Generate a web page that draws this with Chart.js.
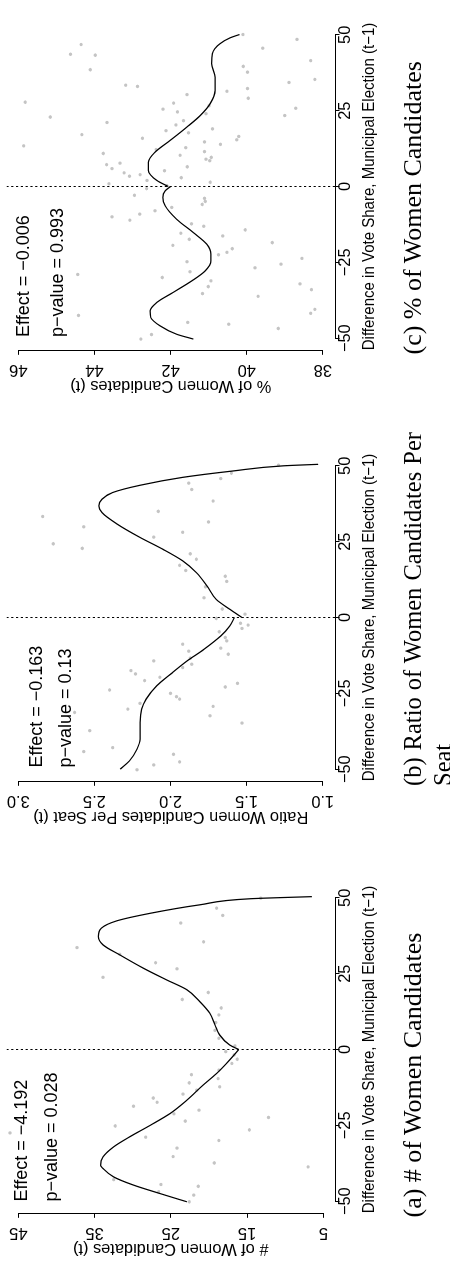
<!DOCTYPE html>
<html>
<head>
<meta charset="utf-8">
<script src="https://cdn.jsdelivr.net/npm/chart.js@4.4.1/dist/chart.umd.min.js"></script>
<style>
html,body{margin:0;padding:0;overflow:hidden;background:#fff;width:450px;height:1265px;}
#fig{position:absolute;left:0;top:0;width:1265px;height:450px;transform-origin:0 0;transform:translateY(1265px) rotate(-90deg);overflow:hidden;background:#fff;}
.panel{position:absolute;top:0;width:431px;height:450px;}
.panel canvas{position:absolute;left:0;top:0;}
.ann{position:absolute;font-family:'Liberation Sans',Arial,sans-serif;font-size:18px;line-height:18px;white-space:nowrap;color:#000;}
.cap{position:absolute;font-family:'Liberation Serif','Times New Roman',serif;font-size:26px;line-height:30px;text-align:justify;color:#000;}
</style>
</head>
<body>
<div id="fig"></div>
<script>
// ---------- data ----------
const xTicks = [-50, -25, 0, 25, 50];
const xTitle = 'Difference in Vote Share, Municipal Election (t\u22121)';

// panel (a): # of women candidates
const aYTicks = [5, 15, 25, 35, 45];
const aYRange = [3.47, 46.55];
const aYTitle = '# of Women Candidates (t)';
const aEffect = 'Effect = \u22124.192';
const aPValue = 'p\u2212value = 0.028';
const aCaption = '(a) # of Women Candidates';
const aPoints = [[49.9,13.2],[46.6,19.0],[44.2,18.2],[41.7,23.7],[35.5,20.7],[33.6,37.3],[31.4,31.7],[28.6,27.0],[26.6,24.2],[23.8,33.9],[18.8,20.1],[16.5,23.5],[13.7,18.4],[11.4,18.7],[8.9,19.1],[6.3,19.2],[3.7,18.7],[1.2,16.6],[-0.7,17.8],[-1.8,16.7],[-3.2,16.3],[-4.6,17.0],[-6.8,18.7],[-8.3,22.3],[-9.6,18.8],[-11.0,22.6],[-12.3,18.6],[-13.4,21.6],[-14.7,23.4],[-16.0,27.3],[-17.4,26.8],[-18.7,29.9],[-20.0,21.3],[-21.2,24.6],[-22.4,12.2],[-23.6,23.1],[-25.2,32.3],[-26.5,14.7],[-27.5,46.1],[-28.9,28.3],[-30.0,18.7],[-32.5,24.2],[-35.3,24.7],[-37.4,19.3],[-38.7,7.0],[-42.9,32.5],[-44.5,26.3],[-45.1,21.4],[-46.9,26.6],[-48.0,22.0],[-50.2,22.6]];
const aLeftFit = [[-50.2,22.9],[-47.5,26.4],[-44.7,29.9],[-42.0,32.5],[-39.2,33.9],[-38.2,34.2],[-35.4,33.9],[-32.1,32.5],[-28.8,30.4],[-25.0,27.7],[-21.1,25.1],[-16.7,22.9],[-11.8,20.8],[-7.9,19.0],[-3.5,17.3],[0,16.1]];
const aRightFit = [[0,16.1],[1.5,17.3],[4.8,18.6],[8.1,19.2],[12.0,19.9],[15.8,21.2],[19.7,22.9],[23.0,25.6],[26.8,28.6],[31.2,31.7],[34.5,33.9],[37.3,34.5],[40.0,34.1],[42.4,32.1],[44.9,27.7],[47.7,21.2],[49.7,14.6],[50.4,6.5]];

// panel (b): ratio of women candidates per seat
const bYTicks = [1.0, 1.5, 2.0, 2.5, 3.0];
const bYRange = [0.919, 3.0775];
const bYTitle = 'Ratio Women Candidates Per Seat (t)';
const bEffect = 'Effect = \u22120.163';
const bPValue = 'p\u2212value = 0.13';
const bCaption = '(b) Ratio of Women Candidates Per Seat';
const bPoints = [[50.2,1.29],[47.6,1.60],[45.8,1.67],[44.3,1.88],[42.2,1.86],[38.4,1.72],[35.0,2.08],[33.3,2.84],[31.5,1.75],[29.9,2.57],[28.1,1.92],[26.5,2.11],[24.3,2.77],[22.8,2.58],[21.0,1.87],[19.2,1.83],[17.2,1.94],[15.5,1.90],[13.6,1.64],[11.9,1.63],[10.1,1.77],[6.5,1.78],[2.8,1.66],[1.1,1.51],[-0.3,1.70],[-1.9,1.54],[-2.5,1.49],[-3.6,1.53],[-4.7,1.68],[-6.6,1.64],[-7.7,1.63],[-8.8,1.92],[-10.1,1.67],[-11.1,1.88],[-12.1,1.62],[-13.4,1.87],[-14.3,2.11],[-15.4,1.86],[-16.5,1.92],[-17.5,2.26],[-18.6,2.23],[-19.7,2.07],[-20.8,2.17],[-21.7,1.56],[-22.9,1.64],[-23.9,2.40],[-25.0,2.00],[-26.1,1.96],[-26.9,1.94],[-28.3,2.20],[-29.3,1.72],[-30.2,2.28],[-31.3,2.63],[-32.4,1.74],[-34.8,1.53],[-37.3,2.53],[-42.9,2.38],[-44.2,2.57],[-45.1,1.98],[-47.6,1.94],[-48.6,2.11],[-50.2,2.22]];
const bLeftFit = [[-50.0,2.33],[-47.3,2.27],[-43.4,2.22],[-40.1,2.20],[-34.6,2.20],[-30.2,2.19],[-26.9,2.16],[-22.5,2.09],[-18.7,2.00],[-14.3,1.89],[-10.5,1.78],[-6.1,1.67],[-2.8,1.61],[0,1.58]];
const bRightFit = [[0,1.53],[2.7,1.61],[6.0,1.70],[10.4,1.76],[14.8,1.83],[18.7,1.92],[22.5,2.05],[26.4,2.20],[30.8,2.35],[34.6,2.45],[36.8,2.47],[39.0,2.45],[41.2,2.38],[43.6,2.20],[46.2,1.92],[48.3,1.59],[50.0,1.26],[50.5,1.03]];

// panel (c): % of women candidates
const cYTicks = [38, 40, 42, 44, 46];
const cYRange = [37.68, 46.31];
const cYTitle = '% of Women Candidates (t)';
const cEffect = 'Effect = \u22120.006';
const cPValue = 'p\u2212value = 0.993';
const cCaption = '(c) % of Women Candidates';
const cPoints = [[50.1,40.10],[48.5,38.68],[46.8,44.35],[45.6,39.58],[43.6,44.63],[43.3,43.98],[41.5,38.32],[39.6,40.09],[38.5,44.11],[37.7,39.98],[35.3,38.21],[34.3,38.89],[33.4,43.18],[33.0,42.87],[32.3,39.98],[31.4,40.52],[30.3,41.57],[29.1,39.96],[27.8,45.82],[27.5,41.92],[26.6,40.99],[25.5,42.20],[25.8,38.71],[24.6,41.82],[24.0,41.07],[23.4,39.00],[22.9,45.16],[21.7,41.66],[21.1,43.67],[20.3,41.86],[19.0,40.90],[18.4,42.12],[17.7,41.53],[17.1,44.33],[16.5,40.21],[15.9,42.74],[15.4,40.26],[14.7,41.11],[13.9,40.69],[13.4,45.86],[12.8,41.60],[12.2,42.38],[11.5,41.11],[10.9,43.77],[10.3,41.75],[9.6,40.93],[9.0,41.07],[8.5,40.97],[7.7,43.33],[7.2,43.68],[6.5,41.56],[5.9,43.54],[5.2,42.16],[4.5,43.22],[3.9,42.80],[3.4,43.08],[2.9,41.72],[2.0,42.62],[1.4,40.96],[0.9,43.62],[0.3,42.10],[-0.7,42.63],[-2.9,42.95],[-3.9,41.11],[-4.9,41.09],[-5.9,41.17],[-6.9,41.97],[-8.0,42.41],[-9.1,42.81],[-10.0,43.54],[-11.1,43.07],[-12.3,41.45],[-13.1,41.13],[-14.3,40.04],[-15.4,41.73],[-16.3,40.63],[-17.4,41.51],[-18.5,39.33],[-19.4,41.94],[-20.5,40.38],[-21.7,40.52],[-22.5,40.74],[-23.7,38.55],[-24.8,41.57],[-25.6,39.10],[-26.8,39.78],[-28.1,41.49],[-29.0,44.44],[-30.0,42.22],[-31.1,40.94],[-32.1,38.60],[-33.0,41.01],[-34.0,38.30],[-35.3,41.16],[-36.2,39.70],[-40.5,38.21],[-41.8,38.32],[-42.5,44.42],[-44.8,41.55],[-45.4,40.47],[-46.8,39.17],[-48.8,42.50],[-50.3,42.78]];
const cLeftFit = [[-50.3,41.40],[-48.7,41.84],[-45.9,42.28],[-43.2,42.52],[-41.0,42.54],[-38.2,42.36],[-34.9,41.93],[-31.1,41.44],[-27.8,41.09],[-24.5,40.94],[-22.3,40.94],[-19.0,41.05],[-15.2,41.40],[-10.8,41.84],[-6.4,42.14],[-3.6,42.20],[-1.4,42.14],[0,42.0]];
const cRightFit = [[0,42.06],[2.0,42.36],[5.3,42.58],[8.0,42.58],[11.3,42.41],[15.2,42.01],[19.6,41.57],[23.4,41.22],[27.3,40.96],[31.7,40.83],[36.0,40.83],[40.5,40.92],[43.8,40.90],[47.1,40.70],[49.0,40.44],[50.1,40.19]];

// ---------- layout (un-rotated figure coordinates) ----------
const panelDefs = [
  {off: 0,     ticks: aYTicks, range: aYRange, dec: 0, yTitle: aYTitle, pts: aPoints, L: aLeftFit, R: aRightFit, eff: aEffect, pv: aPValue, cap: aCaption, annX: 63.5, effB: 27.5, pvB: 57, capFont: 26,   capW: 343},
  {off: 431.5, ticks: bYTicks, range: bYRange, dec: 1, yTitle: bYTitle, pts: bPoints, L: bLeftFit, R: bRightFit, eff: bEffect, pv: bPValue, cap: bCaption, annX: 66,   effB: 42,   pvB: 71, capFont: 24.5, capW: 354},
  {off: 863,   ticks: cYTicks, range: cYRange, dec: 0, yTitle: cYTitle, pts: cPoints, L: cLeftFit, R: cRightFit, eff: cEffect, pv: cPValue, cap: cCaption, annX: 65,   effB: 29,   pvB: 63, capFont: 26,   capW: 343}
];

const FS = 16.4;
Chart.defaults.font.family = "'Liberation Sans', Arial, Helvetica, sans-serif";
Chart.defaults.color = '#000';

function fmt(v, dec) {
  const s = Math.abs(v).toFixed(dec);
  return (v < 0 ? '\u2212' : '') + s;
}

const measureCtx = document.createElement('canvas').getContext('2d');
measureCtx.font = FS + "px 'Liberation Sans'";

// R-style axis lines: only between first and last tick
const rAxes = {
  id: 'rAxes',
  afterDraw(chart) {
    const {ctx, chartArea: ca} = chart;
    const xs = chart.scales.x, ys = chart.scales.y;
    const yt = chart.options.plugins.rAxes.yTicks;
    ctx.save();
    ctx.strokeStyle = '#000';
    ctx.lineWidth = 1;
    ctx.beginPath();
    const yb = Math.round(ca.bottom) + 0.5;
    ctx.moveTo(xs.getPixelForValue(xTicks[0]), yb);
    ctx.lineTo(xs.getPixelForValue(xTicks[xTicks.length - 1]), yb);
    const xl = Math.round(ca.left) - 0.5;
    ctx.moveTo(xl, ys.getPixelForValue(yt[0]));
    ctx.lineTo(xl, ys.getPixelForValue(yt[yt.length - 1]));
    ctx.stroke();
    ctx.restore();
  }
};

const fig = document.getElementById('fig');
const W = 431, H = 450;
const plotLeft = 51.7, plotRight = 379.3, plotTop = 6.5, plotBottom = 335;

panelDefs.forEach((p) => {
  const div = document.createElement('div');
  div.className = 'panel';
  div.style.left = p.off + 'px';
  const cv = document.createElement('canvas');
  cv.width = W; cv.height = H;
  cv.style.width = W + 'px'; cv.style.height = H + 'px';
  div.appendChild(cv);

  const e1 = document.createElement('div');
  e1.className = 'ann'; e1.textContent = p.eff;
  e1.style.left = p.annX + 'px'; e1.style.top = (p.effB - 15.2) + 'px';
  const e2 = document.createElement('div');
  e2.className = 'ann'; e2.textContent = p.pv;
  e2.style.left = p.annX + 'px'; e2.style.top = (p.pvB - 15.2) + 'px';
  div.appendChild(e1); div.appendChild(e2);

  const cap = document.createElement('div');
  cap.className = 'cap'; cap.textContent = p.cap;
  cap.style.left = '47.5px'; cap.style.top = '398px'; cap.style.width = p.capW + 'px';
  cap.style.fontSize = p.capFont + 'px';
  div.appendChild(cap);
  fig.appendChild(div);

  const labels = p.ticks.map(v => fmt(v, p.dec));
  const widest = Math.max(...labels.map(s => measureCtx.measureText(s).width));
  const yPad = (plotLeft - 4.5 - 32.5) - widest / 2;

  new Chart(cv, {
    type: 'scatter',
    data: {
      datasets: [
        {type: 'scatter', order: 3, data: p.pts.map(d => ({x: d[0], y: d[1]})),
         pointRadius: 1.7, pointBackgroundColor: '#c4c4c4', pointBorderWidth: 0},
        {type: 'line', order: 1, data: p.L.map(d => ({x: d[0], y: d[1]})),
         borderColor: '#000', borderWidth: 1.25, pointRadius: 0, fill: false, cubicInterpolationMode: 'monotone'},
        {type: 'line', order: 1, data: p.R.map(d => ({x: d[0], y: d[1]})),
         borderColor: '#000', borderWidth: 1.25, pointRadius: 0, fill: false, cubicInterpolationMode: 'monotone'},
        {type: 'line', order: 2, data: [{x: 0, y: p.range[0]}, {x: 0, y: p.range[1]}],
         borderColor: '#000', borderWidth: 1, borderDash: [2.2, 2.6], pointRadius: 0, fill: false}
      ]
    },
    options: {
      responsive: false,
      animation: false,
      devicePixelRatio: 1,
      events: [],
      layout: {padding: {left: 0, top: plotTop, right: W - plotRight, bottom: 0}},
      plugins: {legend: {display: false}, tooltip: {enabled: false}, rAxes: {yTicks: p.ticks}},
      scales: {
        x: {
          type: 'linear', position: 'bottom', min: -54, max: 54,
          afterBuildTicks: s => { s.ticks = xTicks.map(v => ({value: v})); },
          afterFit: s => { s.height = H - plotBottom; s.paddingLeft = 0; s.paddingRight = 0; s.paddingTop = 0; s.paddingBottom = 0; },
          grid: {display: true, drawOnChartArea: false, drawTicks: true, tickLength: 4.5, color: '#000', lineWidth: 1},
          border: {display: false},
          ticks: {font: {size: FS, lineHeight: 1}, color: '#000', padding: -2.5, minRotation: 0, maxRotation: 0, autoSkip: false,
                  callback: v => fmt(v, 0)},
          title: {display: true, text: xTitle, color: '#000', font: {size: FS, lineHeight: 1}, padding: {top: 0, bottom: 72}}
        },
        y: {
          type: 'linear', position: 'left', min: p.range[0], max: p.range[1],
          afterBuildTicks: s => { s.ticks = p.ticks.map(v => ({value: v})); },
          afterFit: s => { s.width = plotLeft; s.paddingTop = 0; s.paddingBottom = 0; s.paddingLeft = 0; s.paddingRight = 0; },
          grid: {display: true, drawOnChartArea: false, drawTicks: true, tickLength: 4.5, color: '#000', lineWidth: 1},
          border: {display: false},
          ticks: {font: {size: FS, lineHeight: 1}, color: '#000', padding: yPad, minRotation: 90, maxRotation: 90,
                  crossAlign: 'center', autoSkip: false, callback: v => fmt(v, p.dec)},
          title: {display: true, text: p.yTitle, color: '#000', font: {size: FS, lineHeight: 1}, padding: {top: 8.5, bottom: 0}}
        }
      }
    },
    plugins: [rAxes]
  });
});
</script>
</body>
</html>
